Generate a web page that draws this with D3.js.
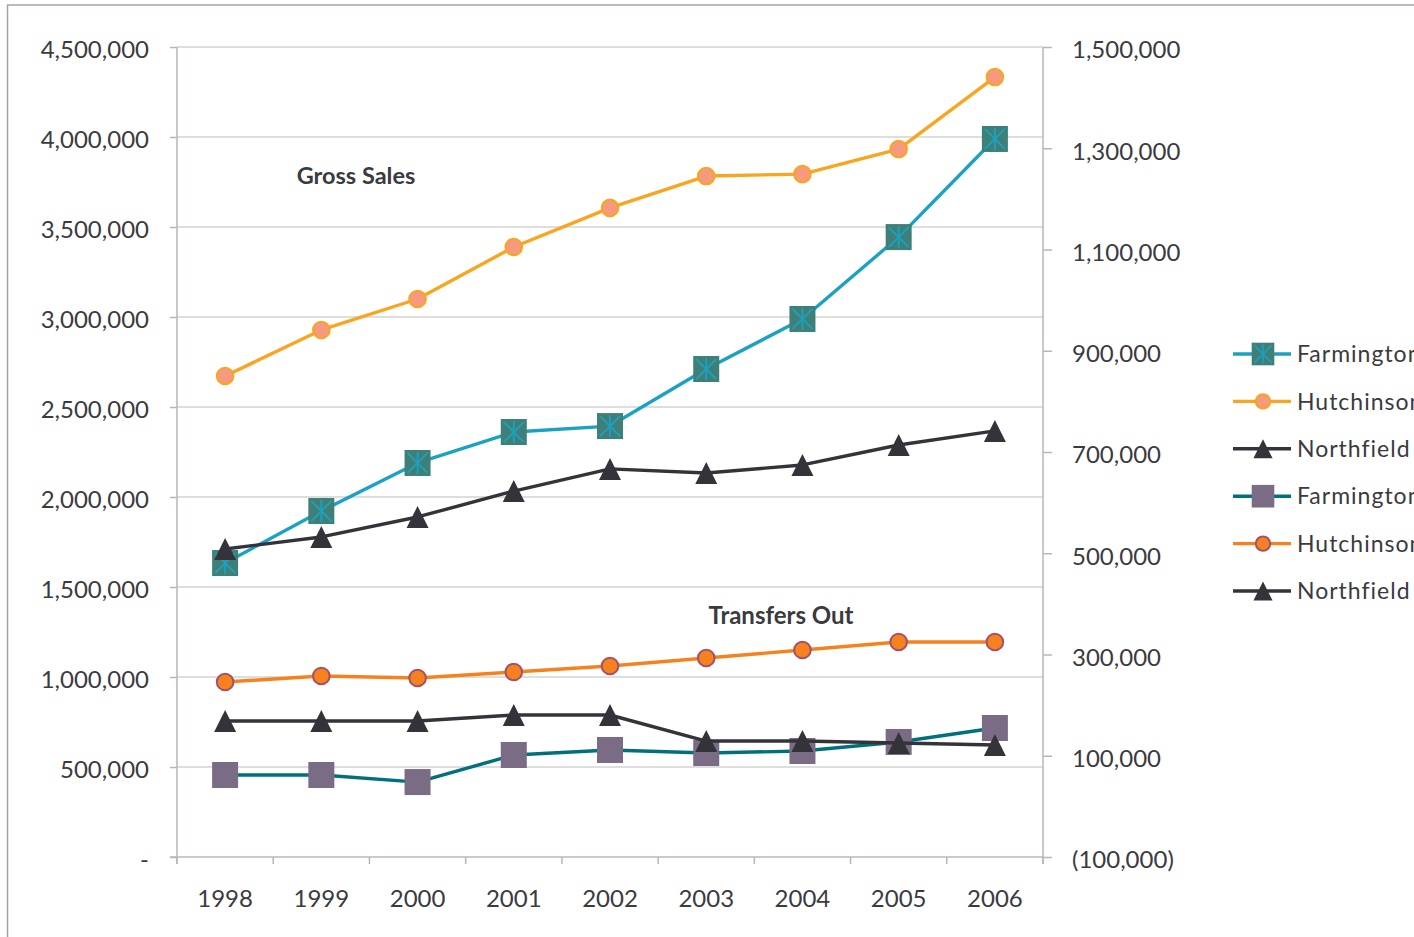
<!DOCTYPE html>
<html>
<head>
<meta charset="utf-8">
<script src="https://cdn.jsdelivr.net/npm/d3@7"></script>
<style>
  html, body { margin: 0; padding: 0; background: #fff; overflow: hidden; }
  svg { display: block; }
  text { font-family: Lato, "Open Sans", sans-serif; fill: #3b3a3f; }
</style>
</head>
<body>
<svg id="chart" width="1414" height="937"></svg>
<script>
// ---- data ----
const years = ['1998','1999','2000','2001','2002','2003','2004','2005','2006'];
const grossFarmington  = [1633000, 1922000, 2189000, 2361000, 2394000, 2711000, 2989000, 3444000, 3989000];
const grossHutchinson  = [2672000, 2928000, 3100000, 3389000, 3606000, 3783000, 3794000, 3933000, 4333000];
const grossNorthfield  = [1711000, 1778000, 1889000, 2033000, 2156000, 2133000, 2178000, 2289000, 2367000];
const transfersFarmington = [62000, 62000, 48000, 101500, 111400, 105400, 109400, 127200, 154800];
const transfersHutchinson = [245700, 257500, 253600, 265400, 277300, 293100, 308900, 324700, 324700];
const transfersNorthfield = [168600, 168600, 168600, 180500, 180500, 129100, 129100, 125200, 121200];
const leftTicks  = [0, 500000, 1000000, 1500000, 2000000, 2500000, 3000000, 3500000, 4000000, 4500000];
const rightTicks = [-100000, 100000, 300000, 500000, 700000, 900000, 1100000, 1300000, 1500000];
const seriesNames = ['Farmington','Hutchinson','Northfield','Farmington','Hutchinson','Northfield'];

// ---- layout ----
const svg = d3.select('#chart');
const L = 177, R = 1043, T = 47, B = 857;

const x = d3.scaleBand().domain(years).range([L, R]);
const yL = d3.scaleLinear().domain([0, 4500000]).range([B, T]);
const yR = d3.scaleLinear().domain([-100000, 1500000]).range([B, T]);

// outer chart border
svg.append('path')
  .attr('d', `M7.5,940 V5 H1420`)
  .attr('fill', 'none').attr('stroke', '#a9a3a1').attr('stroke-width', 1.5);

// gridlines
svg.append('g').selectAll('line').data(leftTicks.filter(d => d > 0)).join('line')
  .attr('x1', L).attr('x2', R)
  .attr('y1', d => yL(d)).attr('y2', d => yL(d))
  .attr('stroke', '#bdbdbd').attr('stroke-width', 1.2);

const axisColor = '#bdb5b2';
const fmtL = v => v === 0 ? '-' : d3.format(',')(v);
const fmtR = v => v < 0 ? '(' + d3.format(',')(-v) + ')' : d3.format(',')(v);

// left axis
const gL = svg.append('g').attr('transform', `translate(${L},0)`)
  .call(d3.axisLeft(yL).tickValues(leftTicks).tickFormat(fmtL).tickSize(7).tickPadding(21));
gL.select('.domain').remove();
gL.selectAll('line').attr('stroke', axisColor).attr('stroke-width', 1.5);
gL.selectAll('text').style('font-size', '24px').attr('dy', '0.45em');
svg.append('line').attr('x1', L).attr('x2', L).attr('y1', T).attr('y2', B + 7)
  .attr('stroke', axisColor).attr('stroke-width', 1.5);

// right axis
const gR = svg.append('g').attr('transform', `translate(${R},0)`)
  .call(d3.axisRight(yR).tickValues(rightTicks).tickFormat(fmtR).tickSize(9).tickPadding(20));
gR.select('.domain').remove();
gR.selectAll('line').attr('stroke', axisColor).attr('stroke-width', 1.5);
gR.selectAll('text').style('font-size', '24px').attr('dy', '0.45em');
svg.append('line').attr('x1', R).attr('x2', R).attr('y1', T).attr('y2', B + 7)
  .attr('stroke', axisColor).attr('stroke-width', 1.5);

// bottom axis
svg.append('line').attr('x1', L - 7).attr('x2', R).attr('y1', B).attr('y2', B)
  .attr('stroke', axisColor).attr('stroke-width', 1.5);
const bounds = years.map(d => x(d)).concat([x(years[years.length - 1]) + x.bandwidth()]);
svg.append('g').selectAll('line').data(bounds).join('line')
  .attr('x1', d => d).attr('x2', d => d).attr('y1', B).attr('y2', B + 7)
  .attr('stroke', axisColor).attr('stroke-width', 1.5);
const gB = svg.append('g').attr('transform', `translate(0,${B})`)
  .call(d3.axisBottom(x).tickSize(0).tickPadding(33));
gB.select('.domain').remove();
gB.selectAll('text').style('font-size', '24px');

// ---- series ----
const cx = d => x(d) + x.bandwidth() / 2;

const styles = [
  { data: grossFarmington, y: yL, line: '#1ba2c2', marker: 'star' },
  { data: grossHutchinson, y: yL, line: '#f9a51f', marker: 'circle', fill: '#f59a7e', stroke: '#f9a51f' },
  { data: grossNorthfield, y: yL, line: '#343339', marker: 'triangle', fill: '#343339' },
  { data: transfersFarmington, y: yR, line: '#00717c', marker: 'square', fill: '#7a6c84' },
  { data: transfersHutchinson, y: yR, line: '#f5821f', marker: 'circle', fill: '#f5821f', stroke: '#a4506a' },
  { data: transfersNorthfield, y: yR, line: '#343339', marker: 'triangle', fill: '#343339' }
];

function drawMarker(g, type, s, px, py, scale) {
  const k = scale || 1;
  if (type === 'star') {
    const h = 13 * k;
    g.append('rect').attr('x', px - h).attr('y', py - h).attr('width', 2 * h).attr('height', 2 * h)
      .attr('fill', '#3e8077');
    const a = 10 * k;
    const star = g.append('g').attr('stroke', '#1ba2c2').attr('stroke-width', 1.8 * k);
    star.append('line').attr('x1', px).attr('x2', px).attr('y1', py - a - 1).attr('y2', py + a + 1);
    star.append('line').attr('x1', px - a).attr('x2', px + a).attr('y1', py - a).attr('y2', py + a);
    star.append('line').attr('x1', px - a).attr('x2', px + a).attr('y1', py + a).attr('y2', py - a);
  } else if (type === 'square') {
    const h = 13 * k;
    g.append('rect').attr('x', px - h).attr('y', py - h).attr('width', 2 * h).attr('height', 2 * h)
      .attr('fill', s.fill);
  } else if (type === 'circle') {
    g.append('circle').attr('cx', px).attr('cy', py).attr('r', 8.3 * k)
      .attr('fill', s.fill).attr('stroke', s.stroke).attr('stroke-width', 2);
  } else if (type === 'triangle') {
    const h = 11 * k;
    g.append('path').attr('d', `M${px},${py - h}L${px + h},${py + h}L${px - h},${py + h}Z`)
      .attr('fill', s.fill);
  }
}

const plot = svg.append('g');
styles.forEach(s => {
  const pts = years.map((yr, i) => [cx(yr), s.y(s.data[i])]);
  const g = plot.append('g');
  g.append('path').attr('d', d3.line()(pts))
    .attr('fill', 'none').attr('stroke', s.line).attr('stroke-width', 3.4)
    .attr('stroke-linejoin', 'round');
  pts.forEach(p => drawMarker(g, s.marker, s, p[0], p[1], 1));
});

// annotations
svg.append('text').attr('x', 356).attr('y', 184).attr('text-anchor', 'middle')
  .style('font-size', '23.5px').style('font-weight', 'bold').text('Gross Sales');
svg.append('text').attr('x', 781).attr('y', 624).attr('text-anchor', 'middle')
  .style('font-size', '24px').style('font-weight', 'bold').text('Transfers Out');

// legend
const legend = svg.append('g');
styles.forEach((s, i) => {
  const ly = 354 + i * 47.4;
  const g = legend.append('g');
  g.append('line').attr('x1', 1233).attr('x2', 1291).attr('y1', ly).attr('y2', ly)
    .attr('stroke', s.line).attr('stroke-width', 3.4);
  drawMarker(g, s.marker, s, 1263, ly, 0.87);
  g.append('text').attr('x', 1297).attr('y', ly).attr('dy', '0.36em')
    .style('font-size', '23px').style('letter-spacing', '1px').text(seriesNames[i]);
});
</script>
</body>
</html>
